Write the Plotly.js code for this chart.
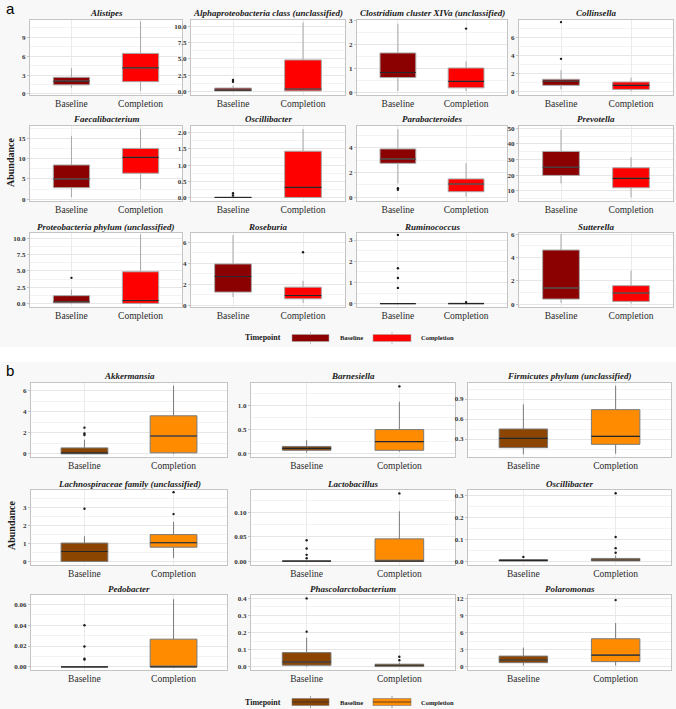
<!DOCTYPE html>
<html><head><meta charset="utf-8">
<script src="https://cdn.plot.ly/plotly-3.0.1.min.js"></script>
<style>html,body{margin:0;padding:0;background:#fff}#chart{width:676px;height:709px}</style>
</head><body><div id="chart"></div>
<script>
// ---------------- data: panel a ----------------
const timepoints = ['Baseline', 'Completion'];

const taxaA = ['Alistipes', 'Alphaproteobacteria class (unclassified)', 'Clostridium cluster XIVa (unclassified)', 'Collinsella',
  'Faecalibacterium', 'Oscillibacter', 'Parabacteroides', 'Prevotella',
  'Proteobacteria phylum (unclassified)', 'Roseburia', 'Ruminococcus', 'Sutterella'];
const aBaseLow  = [1.0, 0, 0.04, 0.27, 0.5, 0, 1.12, 14.7, 0, 0.8, 0, 0.09];
const aBaseQ1   = [1.45, 0.08, 0.61, 0.72, 2.85, 0, 2.74, 19.8, 0.12, 1.27, 0, 0.43];
const aBaseMed  = [2.05, 0.2, 0.82, 1.17, 5.0, 0, 3.09, 25.0, 0.3, 2.75, 0, 1.38];
const aBaseQ3   = [2.65, 0.52, 1.64, 1.39, 8.43, 0.01, 3.9, 35.2, 1.23, 3.95, 0, 4.64];
const aBaseHigh = [4.1, 0.9, 2.86, 2.4, 15.56, 0.02, 5.5, 49.1, 2.15, 6.7, 0, 6.0];
const aBaseOut  = [[], [1.5, 1.75], [], [3.65, 7.72], [], [0.06, 0.13], [0.6, 0.73], [], [3.95], [], [0.74, 1.21, 1.67, 3.24], []];
const aCompLow  = [0.5, 0, 0.04, 0.08, 2.5, 0, 0.05, 5.7, 0, 0.23, 0, 0.05];
const aCompQ1   = [1.95, 0.08, 0.18, 0.27, 6.4, 0, 0.45, 11.9, 0.05, 0.63, 0, 0.23];
const aCompMed  = [4.15, 0.37, 0.45, 0.72, 10.3, 0.31, 1.07, 17.9, 0.5, 0.95, 0, 0.95];
const aCompQ3   = [6.45, 4.85, 1.01, 1.09, 12.5, 1.43, 1.48, 24.7, 4.88, 1.74, 0.02, 1.58];
const aCompHigh = [11.5, 10.6, 1.29, 1.57, 17.3, 2.11, 2.74, 31.4, 10.6, 2.34, 0.03, 2.88];
const aCompOut  = [[], [], [2.66], [], [], [], [], [], [], [5.06], [0.07], []];
const aYRange = [[-0.16, 11.75], [-0.55, 11.0], [-0.12, 3.02], [-0.35, 7.95], [-0.42, 18], [-0.11, 2.21],
  [-0.3, 5.75], [3.4, 51.5], [-0.5, 10.8], [-0.15, 6.9], [-0.16, 3.33], [-0.25, 6.1]];
const aYStep = [3, 2.5, 1, 2, 5, 0.5, 2, 10, 2.5, 2, 1, 2];
const aYFmt  = ['d', '.1f', 'd', 'd', 'd', '.1f', 'd', 'd', '.1f', 'd', 'd', 'd'];

// ---------------- data: panel b ----------------
const taxaB = ['Akkermansia', 'Barnesiella', 'Firmicutes phylum (unclassified)',
  'Lachnospiraceae family (unclassified)', 'Lactobacillus', 'Oscillibacter',
  'Pedobacter', 'Phascolarctobacterium', 'Polaromonas'];
const bBaseLow  = [0, 0.02, 0.07, 0, 0, 0, 0, 0, 0.17];
const bBaseQ1   = [0, 0.07, 0.17, 0, 0, 0, 0, 0.008, 0.69];
const bBaseMed  = [0.09, 0.11, 0.31, 0.55, 0, 0.003, 0, 0.027, 1.15];
const bBaseQ3   = [0.57, 0.15, 0.45, 1.02, 0, 0.006, 0, 0.082, 1.85];
const bBaseHigh = [1.35, 0.28, 0.82, 1.4, 0, 0.01, 0, 0.17, 3.35];
const bBaseOut  = [[1.8, 1.95, 2.5], [], [], [2.93], [0.006, 0.013, 0.026, 0.043], [0.019], [0.007, 0.0078, 0.0195, 0.04], [0.205, 0.4], []];
const bCompLow  = [0, 0.04, 0.08, 0.19, 0, 0, 0, 0, 0.17];
const bCompQ1   = [0.1, 0.07, 0.22, 0.79, 0, 0.001, 0, 0, 0.87];
const bCompMed  = [1.7, 0.25, 0.34, 1.04, 0, 0.005, 0, 0.008, 2.02];
const bCompQ3   = [3.63, 0.5, 0.74, 1.49, 0.046, 0.012, 0.0266, 0.014, 4.9];
const bCompHigh = [6.5, 1.08, 1.1, 2.2, 0.103, 0.025, 0.065, 0.023, 7.67];
const bCompOut  = [[], [1.4], [], [2.63, 3.85], [0.14], [0.038, 0.059, 0.11, 0.31], [], [0.037, 0.058], [11.7]];
const bYRange = [[-0.3, 6.76], [-0.07, 1.47], [0.03, 1.14], [-0.2, 3.97], [-0.008, 0.147], [-0.018, 0.325],
  [-0.003, 0.069], [-0.02, 0.42], [-0.6, 12.6]];
const bYStep = [2, 0.5, 0.3, 1, 0.05, 0.1, 0.02, 0.1, 3];
const bYFmt  = ['d', '.1f', '.1f', 'd', '.2f', '.1f', '.2f', '.1f', 'd'];

// ---------------- layout helpers ----------------
const W = 676, H = 709;
const fx = x => x / W;
const fy = y => 1 - y / H;
const SERIF = 'Liberation Serif, Times New Roman, serif';

const traces = [];
const annotations = [];
const shapes = [];
const layout = {
  width: W, height: H,
  margin: {l: 0, r: 0, t: 0, b: 0},
  paper_bgcolor: '#f8f8f8',
  plot_bgcolor: '#ffffff',
  showlegend: false,
  boxmode: 'overlay',
  boxgap: 0.25,
  annotations, shapes
};

let axisN = 0;
function buildPanel(cfg) {
  cfg.taxa.forEach((name, i) => {
    axisN++;
    const s = axisN === 1 ? '' : String(axisN);
    const col = i % cfg.cols.length, row = Math.floor(i / cfg.cols.length);
    const [x0, x1] = cfg.cols[col];
    const [y0, y1] = cfg.rows[row];
    const step = cfg.step[i];
    layout['xaxis' + s] = {
      domain: [fx(x0), fx(x1)], anchor: 'y' + s, type: 'category',
      categoryorder: 'array', categoryarray: timepoints, range: [-0.6, 1.6],
      showgrid: true, gridcolor: '#ebebeb', gridwidth: 1,
      showline: true, mirror: true, linecolor: '#c4c4c4', linewidth: 1,
      ticks: '', zeroline: false, fixedrange: true,
      tickfont: {family: SERIF, size: 9.5, color: '#2b2b2b'}
    };
    layout['yaxis' + s] = {
      domain: [fy(y1), fy(y0)], anchor: 'x' + s,
      range: cfg.range[i], tick0: 0, dtick: step, tickformat: cfg.fmt[i],
      showgrid: true, gridcolor: '#e6e6e6', gridwidth: 1,
      minor: {dtick: step / 2, tick0: 0, showgrid: true, gridcolor: '#f3f3f3', gridwidth: 1},
      showline: true, mirror: true, linecolor: '#c4c4c4', linewidth: 1,
      ticks: 'outside', ticklen: 2, tickcolor: '#c4c4c4',
      zeroline: false, fixedrange: true,
      tickfont: {family: SERIF, size: 7, weight: 'bold', color: '#333333'}
    };
    const groups = [
      {tp: timepoints[0], lo: cfg.bLow[i], q1: cfg.bQ1[i], md: cfg.bMed[i], q3: cfg.bQ3[i], hi: cfg.bHigh[i], out: cfg.bOut[i], fill: cfg.colors[0]},
      {tp: timepoints[1], lo: cfg.cLow[i], q1: cfg.cQ1[i], md: cfg.cMed[i], q3: cfg.cQ3[i], hi: cfg.cHigh[i], out: cfg.cOut[i], fill: cfg.colors[1]}
    ];
    groups.forEach(g => {
      traces.push({
        type: 'box', xaxis: 'x' + s, yaxis: 'y' + s,
        x: [g.tp], q1: [g.q1], median: [g.md], q3: [g.q3], lowerfence: [g.lo], upperfence: [g.hi],
        fillcolor: g.fill, line: {color: cfg.edge, width: 1}, whiskerwidth: 0,
        boxpoints: false, hoverinfo: 'skip'
      });
      // median overlay (dark line)
      traces.push({
        type: 'box', xaxis: 'x' + s, yaxis: 'y' + s,
        x: [g.tp], q1: [g.md], median: [g.md], q3: [g.md], lowerfence: [g.md], upperfence: [g.md],
        fillcolor: 'rgba(0,0,0,0)', line: {color: '#262626', width: 1.1}, whiskerwidth: 0,
        boxpoints: false, hoverinfo: 'skip'
      });
      if (g.out.length) {
        traces.push({
          type: 'scatter', mode: 'markers', xaxis: 'x' + s, yaxis: 'y' + s,
          x: g.out.map(() => g.tp), y: g.out,
          marker: {color: '#1a1a1a', size: 2.4}, hoverinfo: 'skip', cliponaxis: false
        });
      }
    });
    annotations.push({
      xref: 'paper', yref: 'paper', x: fx((x0 + x1) / 2), y: fy(y0 - 6.5),
      xanchor: 'center', yanchor: 'middle', showarrow: false, text: name,
      font: {family: SERIF, size: 9, weight: 'bold', style: 'italic', color: '#1a1a1a'}
    });
  });
}

buildPanel({
  taxa: taxaA,
  bLow: aBaseLow, bQ1: aBaseQ1, bMed: aBaseMed, bQ3: aBaseQ3, bHigh: aBaseHigh, bOut: aBaseOut,
  cLow: aCompLow, cQ1: aCompQ1, cMed: aCompMed, cQ3: aCompQ3, cHigh: aCompHigh, cOut: aCompOut,
  range: aYRange, step: aYStep, fmt: aYFmt,
  cols: [[30, 182], [191, 345], [357, 507], [519, 673]],
  rows: [[20, 95], [126, 201], [233, 307]],
  colors: ['#8B0000', '#FF0000'], edge: '#a8a8a8'
});
buildPanel({
  taxa: taxaB,
  bLow: bBaseLow, bQ1: bBaseQ1, bMed: bBaseMed, bQ3: bBaseQ3, bHigh: bBaseHigh, bOut: bBaseOut,
  cLow: bCompLow, cQ1: bCompQ1, cMed: bCompMed, cQ3: bCompQ3, cHigh: bCompHigh, cOut: bCompOut,
  range: bYRange, step: bYStep, fmt: bYFmt,
  cols: [[31, 227], [251, 455], [468, 671]],
  rows: [[383, 457], [490, 565], [595, 670]],
  colors: ['#8B4500', '#FF8C00'], edge: '#7a7a7a'
});

// white separator between the two panels
shapes.push({type: 'rect', xref: 'paper', yref: 'paper', x0: 0, x1: 1, y0: fy(362), y1: fy(347),
  fillcolor: '#ffffff', line: {width: 0}, layer: 'below'});

// panel letters and y titles
function txt(x, y, text, font, extra) {
  annotations.push(Object.assign({xref: 'paper', yref: 'paper', x: fx(x), y: fy(y), xanchor: 'center', yanchor: 'middle',
    showarrow: false, text, font}, extra || {}));
}
txt(10, 9, 'a', {family: 'Liberation Sans, Arial, sans-serif', size: 15, color: '#000'});
txt(10, 370, 'b', {family: 'Liberation Sans, Arial, sans-serif', size: 15, color: '#000'});
txt(11, 163, 'Abundance', {family: SERIF, size: 10, weight: 'bold', color: '#1a1a1a'}, {textangle: -90});
txt(11, 526, 'Abundance', {family: SERIF, size: 10, weight: 'bold', color: '#1a1a1a'}, {textangle: -90});

// legends
function legend(cy, colors, edge, withMedian) {
  txt(263, cy, 'Timepoint', {family: SERIF, size: 8, weight: 'bold', color: '#1a1a1a'});
  const keys = [[292, 329, 351, timepoints[0]], [373, 411, 437, timepoints[1]]];
  keys.forEach((k, j) => {
    shapes.push({type: 'rect', xref: 'paper', yref: 'paper', x0: fx(k[0]), x1: fx(k[1]), y0: fy(cy + 3.5), y1: fy(cy - 3.5),
      fillcolor: colors[j], line: {color: edge, width: 0.6}});
    const mx = (k[0] + k[1]) / 2;
    shapes.push({type: 'line', xref: 'paper', yref: 'paper', x0: fx(mx), x1: fx(mx), y0: fy(cy + 6), y1: fy(cy + 3.5),
      line: {color: edge, width: 0.7}});
    shapes.push({type: 'line', xref: 'paper', yref: 'paper', x0: fx(mx), x1: fx(mx), y0: fy(cy - 3.5), y1: fy(cy - 6),
      line: {color: edge, width: 0.7}});
    if (withMedian) {
      shapes.push({type: 'line', xref: 'paper', yref: 'paper', x0: fx(k[0]), x1: fx(k[1]), y0: fy(cy), y1: fy(cy),
        line: {color: '#333', width: 0.8}});
    }
    txt(k[2], cy, k[3], {family: SERIF, size: 6.5, weight: 'bold', color: '#1a1a1a'});
  });
}
legend(338, ['#8B0000', '#FF0000'], '#a8a8a8', false);
legend(702, ['#8B4500', '#FF8C00'], '#7a7a7a', true);

Plotly.newPlot('chart', traces, layout, {staticPlot: true, displayModeBar: false});
</script>
</body></html>
